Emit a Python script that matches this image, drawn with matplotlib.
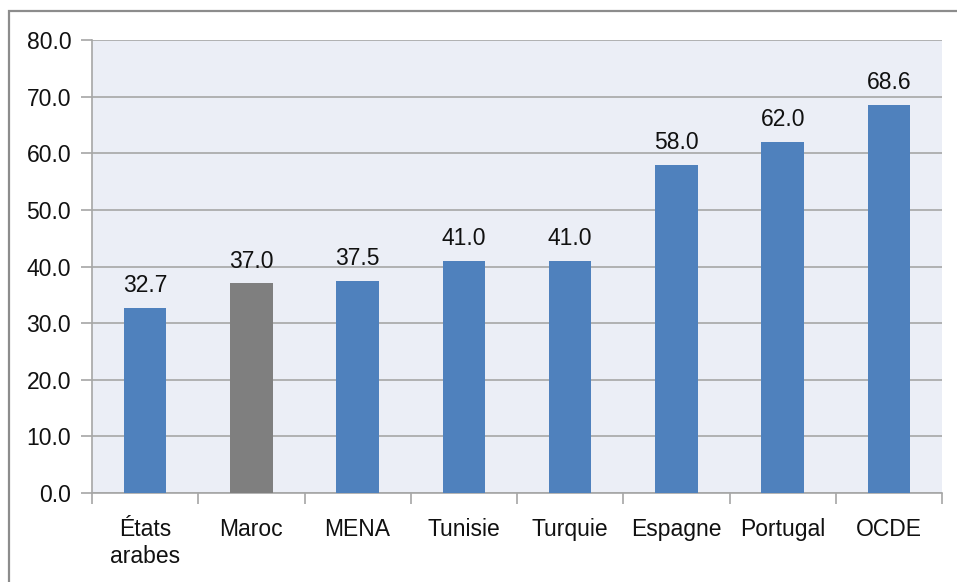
import matplotlib
matplotlib.use("Agg")
import matplotlib.pyplot as plt
from matplotlib.patches import Rectangle

categories = ["États\narabes", "Maroc", "MENA", "Tunisie", "Turquie", "Espagne", "Portugal", "OCDE"]
values = [32.7, 37.0, 37.5, 41.0, 41.0, 58.0, 62.0, 68.6]
bar_colors = ["#4F81BD", "#7F7F7F", "#4F81BD", "#4F81BD", "#4F81BD", "#4F81BD", "#4F81BD", "#4F81BD"]
y_ticks = [0, 10, 20, 30, 40, 50, 60, 70, 80]

plt.rcParams["font.family"] = ["Liberation Sans", "DejaVu Sans"]

W, H = 957, 582
fig = plt.figure(figsize=(W / 100, H / 100), dpi=100)
fig.patch.set_facecolor("white")

# outer chart frame
fig.patches.append(Rectangle((9 / W, -0.1), 1.2, 1 - 11 / H + 0.1,
                             transform=fig.transFigure, fill=False,
                             edgecolor="#8C8C8C", linewidth=1.6))

ax = fig.add_axes([92 / W, (H - 493) / H, (942 - 92) / W, (493 - 40) / H])
ax.set_facecolor("#EBEEF6")

x = list(range(len(categories)))
ax.bar(x, values, width=0.4, color=bar_colors, zorder=3)

for xi, v in zip(x, values):
    ax.text(xi, v + 1.9, f"{v:.1f}", ha="center", va="bottom", fontsize=16.5, color="#111111")

ax.set_xlim(-0.5, len(categories) - 0.5)
ax.set_ylim(0, 80)
ax.set_yticks(y_ticks)
ax.set_yticklabels([f"{t:.1f}" for t in y_ticks], fontsize=16.5, color="#111111")
ax.yaxis.grid(True, color="#A6A6A6", linewidth=1.2, zorder=0)
ax.set_axisbelow(True)

ax.set_xticks(x)
ax.set_xticklabels(categories, fontsize=16.5, color="#111111", linespacing=1.2)
ax.tick_params(axis="x", length=0, pad=18)
ax.tick_params(axis="y", length=8, width=1.2, color="#A6A6A6", pad=7)

# category separators below the baseline
ax.set_xticks([i - 0.5 for i in range(len(categories) + 1)], minor=True)
ax.tick_params(axis="x", which="minor", length=8, width=1.2, color="#A6A6A6", direction="out")

for side in ["top", "right"]:
    ax.spines[side].set_visible(False)
for side in ["left", "bottom"]:
    ax.spines[side].set_color("#A6A6A6")
    ax.spines[side].set_linewidth(1.2)

fig.savefig("out.png", dpi=100, facecolor="white")
